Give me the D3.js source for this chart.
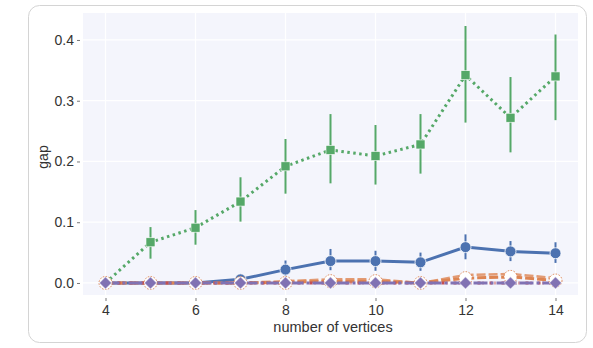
<!DOCTYPE html>
<html>
<head>
<meta charset="utf-8">
<script src="https://cdn.jsdelivr.net/npm/d3@7"></script>
<style>
  body { margin: 0; background: #fff; }
  text { font-family: "Liberation Sans", Arial, sans-serif; }
</style>
</head>
<body>
<div id="chart"></div>
<script>
const vertices = [4, 5, 6, 7, 8, 9, 10, 11, 12, 13, 14]

// blue, solid, circles
const blueMean = [0, 0, 0, 0.006, 0.022, 0.036, 0.036, 0.034, 0.059, 0.052, 0.049]
const blueLow = [0, 0, 0, 0.002, 0.012, 0.021, 0.020, 0.020, 0.039, 0.036, 0.033]
const blueHigh = [0, 0, 0, 0.010, 0.037, 0.056, 0.053, 0.050, 0.080, 0.069, 0.067]

// orange, dashed
const orangeMean = [0, 0, 0, 0, 0.001, 0.003, 0.003, 0, 0.008, 0.010, 0.004]
const orangeLow = [0, 0, 0, 0, 0, 0, 0, 0, 0.003, 0.004, 0]
const orangeHigh = [0, 0, 0, 0, 0.003, 0.006, 0.006, 0, 0.013, 0.015, 0.008]

// green, dotted, squares
const greenMean = [0, 0.067, 0.091, 0.134, 0.192, 0.219, 0.209, 0.228, 0.342, 0.272, 0.340]
const greenLow = [0, 0.040, 0.063, 0.101, 0.147, 0.164, 0.162, 0.180, 0.264, 0.215, 0.268]
const greenHigh = [0, 0.092, 0.120, 0.174, 0.237, 0.278, 0.260, 0.278, 0.423, 0.339, 0.409]

// red and purple stay at zero
const redMean = [0, 0, 0, 0, 0, 0, 0, 0, 0, 0, 0]
const purpleMean = [0, 0, 0, 0, 0, 0, 0, 0, 0, 0, 0]

const xTicks = [4, 6, 8, 10, 12, 14]
const yTicks = [0, 0.1, 0.2, 0.3, 0.4]

const W = 593, H = 348
const svg = d3.select('#chart').append('svg')
  .attr('width', W)
  .attr('height', H)

// card
svg.append('rect')
  .attr('x', 28.5).attr('y', 5.5)
  .attr('width', 558).attr('height', 337)
  .attr('rx', 11)
  .attr('fill', '#fff')
  .attr('stroke', '#d4d4d4')

const pLeft = 83, pRight = 578, pTop = 13, pBottom = 295
const x = d3.scaleLinear().domain([3.5, 14.5]).range([pLeft, pRight])
const y = d3.scaleLinear().domain([-0.0198, 0.4444]).range([pBottom, pTop])

svg.append('rect')
  .attr('x', pLeft).attr('y', pTop)
  .attr('width', pRight - pLeft).attr('height', pBottom - pTop)
  .attr('fill', '#f4f5fc')

// grid
svg.append('g').selectAll('line')
  .data(xTicks)
  .enter().append('line')
  .attr('x1', d => x(d)).attr('x2', d => x(d))
  .attr('y1', pTop).attr('y2', pBottom)
  .attr('stroke', '#fff').attr('stroke-width', 1.2)
svg.append('g').selectAll('line')
  .data(yTicks)
  .enter().append('line')
  .attr('y1', d => y(d)).attr('y2', d => y(d))
  .attr('x1', pLeft).attr('x2', pRight)
  .attr('stroke', '#fff').attr('stroke-width', 1.2)

// axes
const xAxis = svg.append('g')
  .attr('transform', `translate(0,${pBottom + 3})`)
  .call(d3.axisBottom(x).tickValues(xTicks).tickSize(3).tickPadding(4).tickFormat(d3.format('d')))
const yAxis = svg.append('g')
  .attr('transform', `translate(${pLeft - 3},0)`)
  .call(d3.axisLeft(y).tickValues(yTicks).tickSize(3).tickPadding(3).tickFormat(d3.format('.1f')))
;[xAxis, yAxis].forEach(a => {
  a.select('.domain').remove()
  a.selectAll('.tick line').attr('stroke', '#555').attr('stroke-width', 0.8)
  a.selectAll('.tick text').attr('fill', '#333').attr('font-size', '14px')
    .style('font-family', '"Liberation Sans", Arial, sans-serif')
})

svg.append('text')
  .attr('x', 333).attr('y', 332)
  .attr('text-anchor', 'middle')
  .attr('font-size', '14.5px').attr('fill', '#333')
  .text('number of vertices')
svg.append('text')
  .attr('transform', `translate(48,${(pTop + pBottom) / 2 + 3}) rotate(-90)`)
  .attr('text-anchor', 'middle')
  .attr('font-size', '14px').attr('fill', '#333')
  .text('gap')

const line = d3.line()
  .x(d => x(d[0]))
  .y(d => y(d[1]))

function pts(vals) {
  return vertices.map((v, i) => [v, vals[i]])
}

function errBars(vals, lo, hi, color, w) {
  svg.append('g').selectAll('line')
    .data(vertices.map((v, i) => ({ v, lo: lo[i], hi: hi[i] })).filter(d => d.hi > d.lo))
    .enter().append('line')
    .attr('x1', d => x(d.v)).attr('x2', d => x(d.v))
    .attr('y1', d => y(d.lo)).attr('y2', d => y(d.hi))
    .attr('stroke', color).attr('stroke-width', w)
}

const blue = '#4c72b0', orange = '#dd8452', green = '#55a868', red = '#c44e52', purple = '#8172b3'

// blue
errBars(blueMean, blueLow, blueHigh, blue, 2)
svg.append('path').attr('d', line(pts(blueMean)))
  .attr('fill', 'none').attr('stroke', blue).attr('stroke-width', 3)
svg.append('g').selectAll('circle')
  .data(pts(blueMean))
  .enter().append('circle')
  .attr('cx', d => x(d[0])).attr('cy', d => y(d[1])).attr('r', 5.5)
  .attr('fill', blue).attr('stroke', '#fff').attr('stroke-width', 0.8)

// orange
errBars(orangeMean, orangeLow, orangeHigh, orange, 2)
svg.append('path').attr('d', line(pts(orangeHigh)))
  .attr('fill', 'none').attr('stroke', orange).attr('stroke-width', 2.5)
  .attr('stroke-dasharray', '9,3').attr('opacity', 0.8)
svg.append('path').attr('d', line(pts(orangeMean)))
  .attr('fill', 'none').attr('stroke', orange).attr('stroke-width', 3)
  .attr('stroke-dasharray', '9,3')

// green
errBars(greenMean, greenLow, greenHigh, green, 2)
svg.append('path').attr('d', line(pts(greenMean)))
  .attr('fill', 'none').attr('stroke', green).attr('stroke-width', 3)
  .attr('stroke-dasharray', '2.5,3.5')
svg.append('g').selectAll('rect')
  .data(pts(greenMean))
  .enter().append('rect')
  .attr('x', d => x(d[0]) - 4.5).attr('y', d => y(d[1]) - 4.5)
  .attr('width', 9).attr('height', 9)
  .attr('fill', green).attr('stroke', '#fff').attr('stroke-width', 0.6)

// red
svg.append('path').attr('d', line(pts(redMean)))
  .attr('fill', 'none').attr('stroke', red).attr('stroke-width', 3)
  .attr('stroke-dasharray', '3,2,1,6')

// purple
svg.append('path').attr('d', line(pts(purpleMean)))
  .attr('fill', 'none').attr('stroke', purple).attr('stroke-width', 3)
  .attr('stroke-dasharray', '14,3,3,3')

// orange dotted rings
svg.append('g').selectAll('circle')
  .data(pts(orangeMean))
  .enter().append('circle')
  .attr('cx', d => x(d[0])).attr('cy', d => y(d[1]) > y(0) - 1 ? y(0) : y(d[1])).attr('r', 6.5)
  .attr('fill', '#fff').attr('stroke', orange).attr('stroke-width', 1)
  .attr('stroke-dasharray', '1.5,1.5')

// purple diamonds
svg.append('g').selectAll('path')
  .data(pts(purpleMean))
  .enter().append('path')
  .attr('d', d3.symbol(d3.symbolDiamond2, 95))
  .attr('transform', d => `translate(${x(d[0])},${y(d[1])})`)
  .attr('fill', purple).attr('stroke', '#fff').attr('stroke-width', 0.6)
</script>
</body>
</html>
